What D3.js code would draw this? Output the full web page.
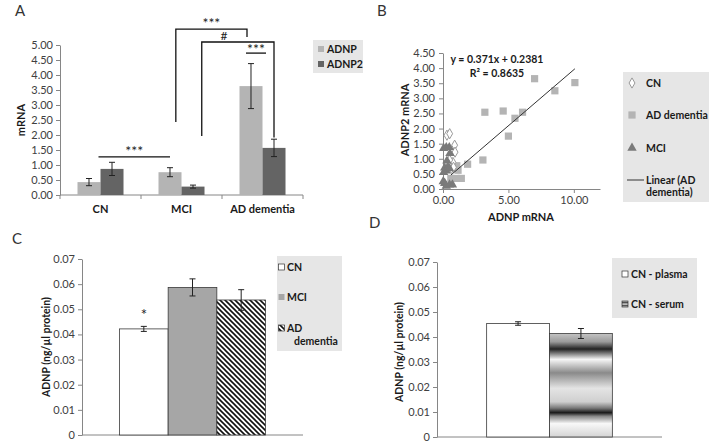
<!DOCTYPE html>
<html><head><meta charset="utf-8">
<script src="https://cdn.jsdelivr.net/npm/d3@7"></script>
<style>
body{margin:0;background:#fff}
svg{display:block}
text{font-family:Lato,"Open Sans",sans-serif}
</style>
</head><body>
<svg id="chart" width="714" height="445"></svg>
<script>
// ---------- Panel A data ----------
const groupsA = ["CN", "MCI", "AD dementia"];
const seriesA = ["ADNP", "ADNP2"];
const adnpA = [0.43, 0.76, 3.63];
const adnpErrA = [0.12, 0.15, 0.75];
const adnp2A = [0.87, 0.28, 1.57];
const adnp2ErrA = [0.22, 0.05, 0.29];
const ticksA = [0, 0.5, 1, 1.5, 2, 2.5, 3, 3.5, 4, 4.5, 5];

// ---------- Panel B data ----------
const cnX = [0.30, 0.51, 0.89, 0.92, 0.76, 0.51, 0.64, 0.45, 0.80];
const cnY = [1.78, 1.83, 1.45, 1.22, 0.88, 0.96, 0.68, 0.78, 0.72];
const adX = [7.0, 8.55, 10.08, 3.2, 4.6, 6.08, 5.5, 5.0, 3.05, 1.88, 0.6, 1.0, 1.4, 1.05, 1.15, 0.76];
const adY = [3.65, 3.25, 3.52, 2.54, 2.58, 2.54, 2.34, 1.75, 0.96, 0.82, 0.35, 0.35, 0.35, 0.77, 0.62, 0.74];
const mciX = [0.05, 0.25, 0.48, 0.53, 0.30, 0.13, 0.38, 0.25, 0.50, 0.05, 0.13, 0.50, 0.72, 0.25, 0.02];
const mciY = [1.35, 1.38, 1.38, 1.18, 0.93, 0.70, 0.72, 0.60, 0.68, 0.55, 0.19, 0.14, 0.14, 0.10, 0.25];
const trendSlope = 0.371, trendIntercept = 0.2381, trendR2 = 0.8635;
const ticksBX = [0, 5, 10];
const ticksBY = [0, 0.5, 1, 1.5, 2, 2.5, 3, 3.5, 4, 4.5];

// ---------- Panel C data ----------
const groupsC = ["CN", "MCI", "AD dementia"];
const valuesC = [0.0422, 0.0587, 0.0537];
const errC = [0.0010, 0.0034, 0.0041];

// ---------- Panel D data ----------
const groupsD = ["CN - plasma", "CN - serum"];
const valuesD = [0.0454, 0.0414];
const errD = [0.0007, 0.0020];
const ticksCD = [0, 0.01, 0.02, 0.03, 0.04, 0.05, 0.06, 0.07];

const svg = d3.select("#chart");
svg.append("rect").attr("width", 714).attr("height", 445).attr("fill", "#fff");
const defs = svg.append("defs");

// hatch pattern
const hatch = defs.append("pattern").attr("id", "hatch").attr("patternUnits", "userSpaceOnUse")
  .attr("width", 5).attr("height", 5);
hatch.append("rect").attr("width", 5).attr("height", 5).attr("fill", "#fff");
hatch.append("path").attr("d", "M-1,-1 L6,6 M-1,4 L1,6 M4,-1 L6,1").attr("stroke", "#111").attr("stroke-width", 1.6);

// gradient for serum
const grad = defs.append("linearGradient").attr("id", "serum").attr("x1", 0).attr("y1", 0).attr("x2", 0).attr("y2", 1);
[[0, "#c4c4c4"], [0.08, "#9a9a9a"], [0.15, "#222"], [0.19, "#777"], [0.25, "#f6f6f6"],
 [0.38, "#8a8a8a"], [0.53, "#e4e4e4"], [0.66, "#cfcfcf"], [0.72, "#7a7a7a"], [0.765, "#1a1a1a"],
 [0.80, "#888"], [0.87, "#f8f8f8"], [1, "#d4d4d4"]].forEach(([o, c]) =>
  grad.append("stop").attr("offset", o).attr("stop-color", c));
const gradL = defs.append("linearGradient").attr("id", "serumL").attr("x1", 0).attr("y1", 0).attr("x2", 0).attr("y2", 1);
[[0, "#ddd"], [0.3, "#333"], [0.5, "#eee"], [0.75, "#555"], [1, "#ddd"]].forEach(([o, c]) =>
  gradL.append("stop").attr("offset", o).attr("stop-color", c));

const AX = "#868686", TXT = "#404040", BOLD = "#1a1a1a";

function styleAxis(g) {
  g.select(".domain").attr("stroke", AX);
  g.selectAll(".tick line").attr("stroke", AX);
  g.selectAll(".tick text").attr("fill", TXT).style("font-size", "11px").style("font-family", "Lato,'Open Sans',sans-serif");
}
function panelLabel(x, y, t) {
  svg.append("text").attr("x", x).attr("y", y).attr("font-size", 15).attr("fill", "#333").text(t);
}
function errBar(g, cx, y1, y2, w) {
  g.append("line").attr("x1", cx).attr("x2", cx).attr("y1", y1).attr("y2", y2).attr("stroke", "#222").attr("stroke-width", 1);
  [y1, y2].forEach(y => g.append("line").attr("x1", cx - w).attr("x2", cx + w).attr("y1", y).attr("y2", y).attr("stroke", "#222").attr("stroke-width", 1));
}

// ================= Panel A =================
(function () {
  const g = svg.append("g");
  panelLabel(15, 16, "A");
  const x0 = d3.scaleBand().domain(groupsA).range([60, 303]);
  const x1 = d3.scaleBand().domain(seriesA).range([x0.bandwidth() * 0.216, x0.bandwidth() * 0.784]);
  const y = d3.scaleLinear().domain([0, 5]).range([195, 45]);
  const colors = {ADNP: "#b4b4b4", ADNP2: "#646464"};
  const rows = groupsA.map((gname, i) => ({g: gname, vals: [
    {s: "ADNP", v: adnpA[i], e: adnpErrA[i]}, {s: "ADNP2", v: adnp2A[i], e: adnp2ErrA[i]}]}));

  g.append("g").attr("transform", "translate(60,0)")
    .call(d3.axisLeft(y).tickValues(ticksA).tickFormat(d3.format(".2f")).tickSize(4).tickPadding(3).tickSizeOuter(0))
    .call(styleAxis);
  // x axis
  g.append("line").attr("x1", 60).attr("x2", 303).attr("y1", 195).attr("y2", 195).attr("stroke", AX);
  const bounds = groupsA.map(d => x0(d)).concat([x0.range()[1]]);
  bounds.forEach(b => g.append("line").attr("x1", b).attr("x2", b).attr("y1", 195).attr("y2", 199).attr("stroke", AX));
  groupsA.forEach(d => g.append("text").attr("x", x0(d) + x0.bandwidth() / 2).attr("y", 213)
    .attr("text-anchor", "middle").attr("font-size", 11).attr("font-weight", "bold").attr("fill", BOLD).text(d));
  g.append("text").attr("transform", "translate(25,120) rotate(-90)").attr("text-anchor", "middle")
    .attr("font-size", 11).attr("font-weight", "bold").attr("fill", BOLD).text("mRNA");

  rows.forEach(r => r.vals.forEach(d => {
    const bx = x0(r.g) + x1(d.s);
    g.append("rect").attr("x", bx).attr("y", y(d.v)).attr("width", x1.bandwidth()).attr("height", y(0) - y(d.v)).attr("fill", colors[d.s]);
    errBar(g, bx + x1.bandwidth() / 2, y(d.v - d.e), y(d.v + d.e), 3);
  }));

  // significance annotations
  const cx = (gi, s) => x0(groupsA[gi]) + x1(s) + x1.bandwidth() / 2;
  const ln = (pts) => g.append("path").attr("d", d3.line()(pts)).attr("fill", "none").attr("stroke", "#111").attr("stroke-width", 1.3);
  const star = (x, yy, t, fs) => g.append("text").attr("x", x).attr("y", yy).attr("text-anchor", "middle").attr("font-size", fs || 14).attr("fill", "#222").text(t);
  // CN vs MCI
  const xa = x0("CN") + x0.bandwidth() / 2 - 2, xb = cx(1, "ADNP");
  ln([[xa, y(1.27)], [xb, y(1.27)]]);
  star((xa + xb) / 2, y(1.27) - 1, "***");
  // bracket MCI -> AD ADNP
  const b1l = x0("MCI") + x0.bandwidth() * 0.43, b1r = cx(2, "ADNP") - 4;
  ln([[b1l, y(2.43)], [b1l, y(5.53)], [b1r, y(5.53)], [b1r, y(5.27)]]);
  star((b1l + b1r) / 2, y(5.53) - 1, "***");
  // bracket MCI -> AD ADNP2
  const b2l = x0("MCI") + x0.bandwidth() * 0.75, b2r = cx(2, "ADNP2");
  ln([[b2l, y(1.97)], [b2l, y(5.1)], [b2r, y(5.1)], [b2r, y(1.86 + 0.06)]]);
  star(cx(2, "ADNP") - 27, y(5.1) - 2, "#", 12);
  // AD ADNP vs ADNP2
  const s1 = cx(2, "ADNP") - 5, s2 = cx(2, "ADNP2") - 8;
  ln([[s1, y(4.73)], [s2, y(4.73)]]);
  star((s1 + s2) / 2, y(4.73) + 1, "***");

  // legend
  const lg = g.append("g");
  lg.append("rect").attr("x", 313).attr("y", 40).attr("width", 50).attr("height", 33).attr("fill", "#e6e6e6");
  seriesA.forEach((s, i) => {
    const yy = 49 + i * 15;
    lg.append("rect").attr("x", 318).attr("y", yy - 3).attr("width", 6).attr("height", 6).attr("fill", colors[s]);
    lg.append("text").attr("x", 327).attr("y", yy + 4).attr("font-size", 10.5).attr("font-weight", "bold").attr("fill", BOLD).text(s);
  });
})();

// ================= Panel B =================
(function () {
  const g = svg.append("g");
  panelLabel(377, 16, "B");
  const x = d3.scaleLinear().domain([0, 12]).range([443, 600]);
  const y = d3.scaleLinear().domain([0, 4.5]).range([189, 53]);
  g.append("g").attr("transform", "translate(443,0)")
    .call(d3.axisLeft(y).tickValues(ticksBY).tickFormat(d3.format(".2f")).tickSize(4).tickPadding(4).tickSizeOuter(0))
    .call(styleAxis);
  g.append("g").attr("transform", "translate(0,189)")
    .call(d3.axisBottom(x).tickValues(ticksBX).tickFormat(d3.format(".2f")).tickSize(4).tickPadding(3).tickSizeOuter(0))
    .call(styleAxis);
  g.append("text").attr("x", 521).attr("y", 221).attr("text-anchor", "middle").attr("font-size", 11)
    .attr("font-weight", "bold").attr("fill", BOLD).text("ADNP mRNA");
  g.append("text").attr("transform", "translate(409,120) rotate(-90)").attr("text-anchor", "middle")
    .attr("font-size", 11).attr("font-weight", "bold").attr("fill", BOLD).text("ADNP2 mRNA");

  const sq = d3.symbol().type(d3.symbolSquare).size(52);
  const tri = d3.symbol().type(d3.symbolTriangle).size(38);
  const dia = d3.symbol().type(d3.symbolDiamond).size(30);
  adX.forEach((v, i) => g.append("path").attr("d", sq).attr("transform", `translate(${x(v)},${y(adY[i])})`).attr("fill", "#b4b4b4"));
  cnX.forEach((v, i) => g.append("path").attr("d", dia).attr("transform", `translate(${x(v)},${y(cnY[i])})`)
    .attr("fill", "#fff").attr("stroke", "#9a9a9a").attr("stroke-width", 1));
  mciX.forEach((v, i) => g.append("path").attr("d", tri).attr("transform", `translate(${x(v)},${y(mciY[i])})`).attr("fill", "#7a7a7a"));

  const ext = d3.extent(adX);
  g.append("line").attr("x1", x(ext[0])).attr("y1", y(trendSlope * ext[0] + trendIntercept))
    .attr("x2", x(ext[1])).attr("y2", y(trendSlope * ext[1] + trendIntercept)).attr("stroke", "#333").attr("stroke-width", 1);

  g.append("text").attr("x", 497).attr("y", 63).attr("text-anchor", "middle").attr("font-size", 10.5)
    .attr("font-weight", "bold").attr("fill", BOLD).text(`y = ${trendSlope}x + ${trendIntercept}`);
  g.append("text").attr("x", 497).attr("y", 77).attr("text-anchor", "middle").attr("font-size", 10.5)
    .attr("font-weight", "bold").attr("fill", BOLD).text(`R² = ${trendR2}`);

  // legend
  const lg = g.append("g");
  lg.append("rect").attr("x", 623).attr("y", 72).attr("width", 86).attr("height", 130).attr("fill", "#e6e6e6");
  const mk = 632, tx = 646;
  lg.append("path").attr("d", dia).attr("transform", `translate(${mk},83)`).attr("fill", "#fff").attr("stroke", "#9a9a9a");
  lg.append("path").attr("d", sq).attr("transform", `translate(${mk},115)`).attr("fill", "#b4b4b4");
  lg.append("path").attr("d", tri).attr("transform", `translate(${mk},148)`).attr("fill", "#7a7a7a");
  lg.append("line").attr("x1", 627).attr("x2", 644).attr("y1", 180).attr("y2", 180).attr("stroke", "#333");
  const lt = (yy, t) => lg.append("text").attr("x", tx).attr("y", yy).attr("font-size", 10.5).attr("font-weight", "bold").attr("fill", BOLD).text(t);
  lt(87, "CN"); lt(119, "AD dementia"); lt(152, "MCI"); lt(184, "Linear (AD"); lt(196, "dementia)");
})();

// ================= Panels C & D helper =================
function barPanel(opts) {
  const g = svg.append("g");
  const y = d3.scaleLinear().domain([0, 0.07]).range([opts.y0, opts.y1]);
  const x = d3.scaleBand().domain(opts.groups).range([opts.xl, opts.xr]).paddingInner(0).paddingOuter(opts.pad);
  g.append("g").attr("transform", `translate(${opts.xl},0)`)
    .call(d3.axisLeft(y).tickValues(ticksCD).tickFormat(d => d === 0 ? "0" : d3.format(".2f")(d)).tickSize(4).tickPadding(3).tickSizeOuter(0))
    .call(styleAxis);
  g.append("line").attr("x1", opts.xl).attr("x2", opts.xr).attr("y1", opts.y0).attr("y2", opts.y0).attr("stroke", AX);
  g.append("text").attr("transform", `translate(${opts.titleX},${opts.titleY}) rotate(-90)`).attr("text-anchor", "middle")
    .attr("font-size", 10.5).attr("font-weight", "bold").attr("fill", BOLD).text("ADNP (ng/µl protein)");
  opts.groups.forEach((d, i) => {
    const v = opts.values[i];
    g.append("rect").attr("x", x(d)).attr("y", y(v)).attr("width", x.bandwidth()).attr("height", y(0) - y(v))
      .attr("fill", opts.fills[i]).attr("stroke", "#3a3a3a").attr("stroke-width", 0.8);
  });
  opts.groups.forEach((d, i) => {
    const v = opts.values[i], e = opts.errs[i];
    errBar(g, x(d) + x.bandwidth() / 2, y(v - e), y(v + e), 3);
  });
  return {g, x, y};
}

// ================= Panel C =================
(function () {
  panelLabel(12, 244, "C");
  const fills = ["#ffffff", "#a6a6a6", "url(#hatch)"];
  const p = barPanel({groups: groupsC, values: valuesC, errs: errC, fills, xl: 82, xr: 303, y0: 435, y1: 259, pad: 0.77, titleX: 50, titleY: 347});
  p.g.append("text").attr("x", p.x("CN") + p.x.bandwidth() / 2).attr("y", 320)
    .attr("text-anchor", "middle").attr("font-size", 15).attr("fill", "#222").text("*");
  const lg = p.g.append("g");
  lg.append("rect").attr("x", 277).attr("y", 256).attr("width", 65).attr("height", 95).attr("fill", "#e6e6e6");
  const ys = [267, 297, 328];
  groupsC.forEach((d, i) => {
    lg.append("rect").attr("x", 278.5).attr("y", ys[i] - 3).attr("width", 6).attr("height", 6).attr("fill", fills[i])
      .attr("stroke", i === 1 ? "none" : "#333").attr("stroke-width", 0.7);
  });
  const lt = (yy, t, xx) => lg.append("text").attr("x", xx).attr("y", yy).attr("font-size", 10.5).attr("font-weight", "bold").attr("fill", BOLD).text(t);
  lt(271, "CN", 287); lt(301, "MCI", 287); lt(332, "AD", 287); lt(345, "dementia", 294);
})();

// ================= Panel D =================
(function () {
  panelLabel(369, 228, "D");
  const fills = ["#ffffff", "url(#serum)"];
  const p = barPanel({groups: groupsD, values: valuesD, errs: errD, fills, xl: 437, xr: 662, y0: 437, y1: 262, pad: 0.79, titleX: 403, titleY: 352});
  const lg = p.g.append("g");
  lg.append("rect").attr("x", 612).attr("y", 258).attr("width", 85).attr("height", 60).attr("fill", "#e6e6e6");
  const ys = [274, 304];
  const lf = ["#ffffff", "url(#serumL)"];
  groupsD.forEach((d, i) => {
    lg.append("rect").attr("x", 622).attr("y", ys[i] - 3).attr("width", 6).attr("height", 6).attr("fill", lf[i]).attr("stroke", "#333").attr("stroke-width", 0.7);
    lg.append("text").attr("x", 631).attr("y", ys[i] + 4).attr("font-size", 10.5).attr("font-weight", "bold").attr("fill", BOLD).text(d);
  });
})();
</script>
</body></html>
